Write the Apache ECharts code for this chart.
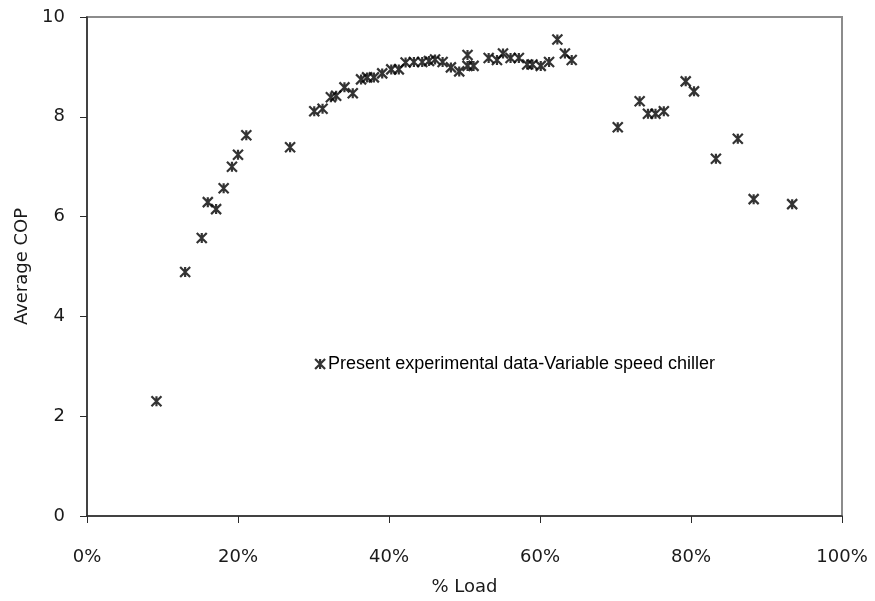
<!DOCTYPE html>
<html>
<head>
<meta charset="utf-8">
<script src="https://cdn.jsdelivr.net/npm/echarts@6/dist/echarts.min.js"></script>
<style>
html,body{margin:0;padding:0;background:#fff;}
#c{width:875px;height:601px;}
</style>
</head>
<body>
<div id="c"></div>
<script>
const seriesName = 'Present experimental data-Variable speed chiller';
const loadPct = [9.2, 13.0, 15.2, 16.0, 17.1, 18.1, 19.2, 20.0, 21.1, 26.9,
  30.1, 31.2, 32.3, 33.0, 34.1, 35.2, 36.3, 37.1, 38.0, 39.1,
  40.3, 41.3, 42.2, 43.3, 44.4, 45.3, 46.1, 47.1, 48.2, 49.3,
  50.4, 50.4, 51.2, 53.2, 54.3, 55.1, 56.1, 57.2, 58.3, 59.0,
  60.1, 61.2, 62.3, 63.3, 64.2, 70.3, 73.2, 74.3, 75.3, 76.4,
  79.3, 80.4, 83.3, 86.2, 88.3, 93.4];
const avgCOP = [2.30, 4.89, 5.57, 6.29, 6.15, 6.57, 7.00, 7.24, 7.63, 7.39,
  8.11, 8.16, 8.39, 8.42, 8.59, 8.47, 8.75, 8.79, 8.79, 8.87,
  8.95, 8.95, 9.09, 9.10, 9.10, 9.12, 9.15, 9.10, 8.99, 8.91,
  9.24, 9.02, 9.02, 9.18, 9.14, 9.27, 9.18, 9.18, 9.05, 9.05,
  9.02, 9.10, 9.55, 9.27, 9.14, 7.79, 8.31, 8.06, 8.06, 8.11,
  8.71, 8.51, 7.16, 7.56, 6.35, 6.25];
const xTicks = [0, 20, 40, 60, 80, 100];
const yTicks = [0, 2, 4, 6, 8, 10];

const starPath = 'path://M0,0L10,10M10,0L0,10M5,0L5,10';
const pts = loadPct.map((x, i) => [x, avgCOP[i]]);
const chart = echarts.init(document.getElementById('c'), null, {renderer: 'canvas'});
const font = 'DejaVu Sans';
chart.setOption({
  animation: false,
  backgroundColor: '#fff',
  grid: {left: 87, right: 33, top: 17, bottom: 82, show: true, borderColor: '#8c8c8c', borderWidth: 2, backgroundColor: 'transparent'},
  legend: {
    show: true,
    left: 309, top: 350,
    itemWidth: 10, itemHeight: 10, itemGap: 0,
    icon: starPath,
    textStyle: {fontFamily: 'Liberation Sans', fontSize: 18, color: '#000', padding: [0,0,0,-2]},
    data: [{name: seriesName, itemStyle: {color: 'transparent', borderColor: '#000', borderWidth: 2.2}}]
  },
  xAxis: {
    type: 'value', min: xTicks[0], max: xTicks[xTicks.length-1], interval: 20,
    name: '% Load', nameLocation: 'middle', nameGap: 62,
    nameTextStyle: {fontFamily: font, fontSize: 18, color: '#1a1a1a'},
    axisLine: {show: true, onZero: false, lineStyle: {color: '#2b2b2b', width: 1.5}},
    axisTick: {show: true, inside: false, length: 7, lineStyle: {color: '#2b2b2b', width: 1}},
    axisLabel: {margin: 32, fontFamily: font, fontSize: 18, color: '#1a1a1a', formatter: v => v + '%'},
    splitLine: {show: false}
  },
  yAxis: {
    type: 'value', min: yTicks[0], max: yTicks[yTicks.length-1], interval: 2,
    name: 'Average COP', nameLocation: 'middle', nameGap: 53,
    nameTextStyle: {fontFamily: font, fontSize: 18, color: '#1a1a1a'},
    axisLine: {show: true, lineStyle: {color: '#2b2b2b', width: 1.5}},
    axisTick: {show: true, inside: false, length: 7, lineStyle: {color: '#2b2b2b', width: 1}},
    axisLabel: {margin: 22, fontFamily: font, fontSize: 18, color: '#1a1a1a'},
    splitLine: {show: false}
  },
  series: [{
    name: seriesName,
    type: 'scatter',
    data: pts,
    symbol: starPath,
    symbolSize: 10,
    itemStyle: {color: 'transparent', borderColor: '#000', borderWidth: 2.2}
  }]
});
</script>
</body>
</html>
